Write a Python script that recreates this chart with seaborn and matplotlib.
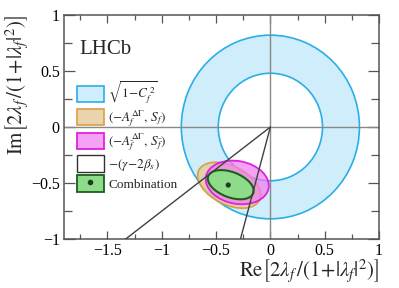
import numpy as np
import pandas as pd
import matplotlib
matplotlib.use("Agg")
import matplotlib.pyplot as plt
from matplotlib.patches import Wedge, Ellipse, Patch
from matplotlib.lines import Line2D
from matplotlib.legend_handler import HandlerTuple
import seaborn as sns

# ---- data ----
ring_radii = [0.48, 0.82]                 # sqrt(1-C_f^2) band (inner, outer)
line_angles_deg = [-143.1, -105.4]        # -(gamma-2beta_s) band edges
ellipse_names = ["Af", "Afbar", "Comb"]
ellipse_cx = [-0.38, -0.305, -0.365]
ellipse_cy = [-0.52, -0.495, -0.515]
ellipse_a = [0.31, 0.293, 0.221]
ellipse_b = [0.174, 0.191, 0.113]
ellipse_ang = [-25.0, -10.0, -20.0]
comb_point = [-0.388, -0.518]
xticks = [-1.5, -1, -0.5, 0, 0.5, 1]
yticks = [-1, -0.5, 0, 0.5, 1]
legend_labels = [r"$\sqrt{1\!-\!C_f^{\,2}}$",
                 r"$(-A_f^{\Delta\Gamma},\,S_f)$",
                 r"$(-A_{\bar{f}}^{\Delta\Gamma},\,S_{\bar{f}})$",
                 r"$-(\gamma\!-\!2\beta_s)$",
                 "Combination"]

sns.set_theme(style="ticks")
plt.rcParams["font.family"] = ["Liberation Serif", "DejaVu Serif"]
plt.rcParams["mathtext.fontset"] = "stix"

fig = plt.figure(figsize=(3.99, 2.88), dpi=100)
ax = fig.add_axes([64/399, 1-239/288, 315/399, 224/288])
ax.set_xlim(-1.9, 1.0)
ax.set_ylim(-1.0, 1.0)

ring_face, ring_edge = "#d0edfc", "#2aaee8"
tan_face, tan_edge = "#e6c99a", "#d9a040"
mag_face, mag_edge = "#f07cf0", "#e020e0"
grn_face, grn_edge = "#8edc8a", "#1b5e20"

ring = Wedge((0, 0), ring_radii[1], 0, 360, width=ring_radii[1]-ring_radii[0],
             facecolor=ring_face, edgecolor=ring_edge, lw=1.2, zorder=1)
ax.add_patch(ring)

ax.axhline(0, color="#888888", lw=1.0, zorder=2)
ax.axvline(0, color="#888888", lw=1.0, zorder=2)

styles = [(tan_face, tan_edge, 0.8, 1.2), (mag_face, mag_edge, 0.7, 1.3), (grn_face, grn_edge, 1.0, 1.5)]
for i in range(3):
    fc, ec, al, lw = styles[i]
    e = Ellipse((ellipse_cx[i], ellipse_cy[i]), 2*ellipse_a[i], 2*ellipse_b[i], angle=ellipse_ang[i],
                facecolor=matplotlib.colors.to_rgba(fc, al), edgecolor=ec, lw=lw, zorder=3+i)
    ax.add_patch(e)

for ang in line_angles_deg:
    r = np.array([0.0, 2.0])
    df = pd.DataFrame({"x": r*np.cos(np.radians(ang)), "y": r*np.sin(np.radians(ang))})
    sns.lineplot(data=df, x="x", y="y", sort=False, estimator=None, color="#404040", lw=1.0, ax=ax, zorder=7)

sns.scatterplot(x=[comb_point[0]], y=[comb_point[1]], color="#1d3d1d", s=14, edgecolor="none", ax=ax, zorder=8)

ax.set_xticks(xticks)
ax.set_xticklabels(["\u22121.5", "\u22121", "\u22120.5", "0", "0.5", "1"])
ax.set_yticks(yticks)
ax.set_yticklabels(["\u22121", "\u22120.5", "0", "0.5", "1"])
ax.set_xticks(np.arange(-1.75, 1.01, 0.25), minor=True)
ax.set_yticks(np.arange(-1.0, 1.01, 0.25), minor=True)
ax.tick_params(axis="both", which="both", direction="in", top=True, right=True,
               colors="#555555", labelcolor="black", labelsize=11.5, width=0.9)
ax.tick_params(axis="x", which="major", length=6, pad=3)
ax.tick_params(axis="x", which="minor", length=3.5)
ax.tick_params(axis="y", which="major", length=8, pad=3)
ax.tick_params(axis="y", which="minor", length=6)
for s in ax.spines.values():
    s.set_color("#555555")
    s.set_linewidth(1.1)

ax.set_xlabel(r"$\mathrm{Re}\left[2\lambda_f\,/(1\!+\!|\lambda_f|^2)\right]$", fontsize=15, loc="right", labelpad=-1)
ax.set_ylabel(r"$\mathrm{Im}\left[2\lambda_f\,/(1\!+\!|\lambda_f|^2)\right]$", fontsize=15, loc="top", labelpad=0)

ax.text(0.05, 0.845, "LHCb", transform=ax.transAxes, fontsize=15, ha="left", va="center")

handles = [Patch(facecolor=ring_face, edgecolor=ring_edge, lw=1.2),
           Patch(facecolor=matplotlib.colors.to_rgba(tan_face, 0.8), edgecolor=tan_edge, lw=1.2),
           Patch(facecolor=matplotlib.colors.to_rgba(mag_face, 0.7), edgecolor=mag_edge, lw=1.3),
           Patch(facecolor="white", edgecolor="#333333", lw=1.0),
           (Patch(facecolor=grn_face, edgecolor=grn_edge, lw=1.3),
            Line2D([], [], marker="o", color="#1d3d1d", ls="none", markersize=3))]
leg = ax.legend(handles, legend_labels, loc="upper left", bbox_to_anchor=(0.04, 0.712),
                frameon=False, fontsize=9.5, handlelength=2.1, handleheight=1.55,
                labelspacing=0.18, handletextpad=0.3, borderpad=0, borderaxespad=0,
                handler_map={tuple: HandlerTuple(ndivide=1)})

fig.savefig("out.png", dpi=100)
